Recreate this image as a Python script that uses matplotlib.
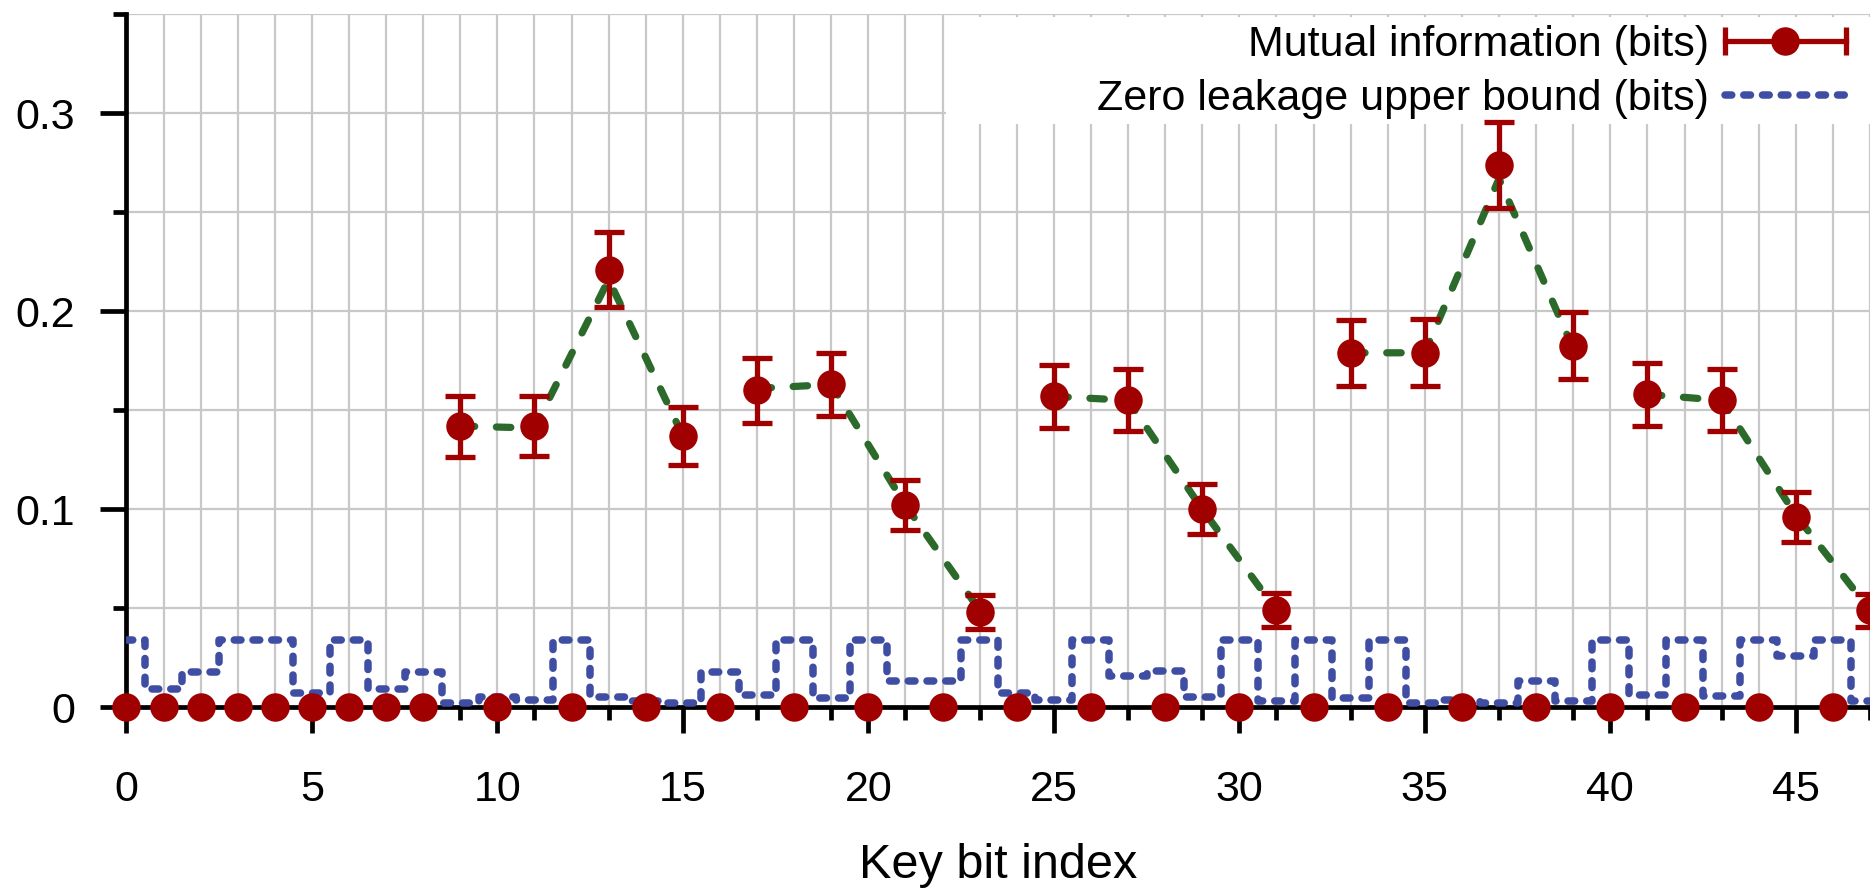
import numpy as np
import matplotlib
matplotlib.use("Agg")
import matplotlib.pyplot as plt
from matplotlib.lines import Line2D
from matplotlib.legend_handler import HandlerLine2D, HandlerTuple
from matplotlib.patches import Rectangle
from matplotlib.ticker import MultipleLocator, FuncFormatter

plt.rcParams["font.family"] = ["Liberation Sans", "DejaVu Sans"]

RED = "#a00000"
BLUE = "#3f4da3"
GREEN = "#2b6a2b"
GRID = "#c8c8c8"

# bits that leak: measured mutual information and its error (bits)
leak_bits = [9, 11, 13, 15, 17, 19, 21, 23, 25, 27, 29, 31, 33, 35, 37, 39, 41, 43, 45, 47]
mi_values = [0.142, 0.142, 0.221, 0.137, 0.160, 0.163, 0.102, 0.048, 0.157, 0.155,
             0.100, 0.049, 0.179, 0.179, 0.274, 0.1825, 0.158, 0.155, 0.096, 0.049]
mi_errors = [0.0154, 0.0151, 0.019, 0.0148, 0.0163, 0.016, 0.0127, 0.0087, 0.016, 0.0157,
             0.0127, 0.0087, 0.0166, 0.0169, 0.0217, 0.0169, 0.016, 0.0157, 0.0127, 0.0084]

# bits with no leakage (MI = 0)
zero_bits = [0, 1, 2, 3, 4, 5, 6, 7, 8, 10, 12, 14, 16, 18, 20, 22, 24, 26, 28,
             30, 32, 34, 36, 38, 40, 42, 44, 46]

# model curve through the leaking bits, in groups of four
model_values = [0.142, 0.141, 0.216, 0.137, 0.161, 0.163, 0.102, 0.049, 0.157, 0.155,
                0.100, 0.049, 0.179, 0.179, 0.267, 0.181, 0.158, 0.155, 0.097, 0.049]

# zero leakage upper bound for every bit 0..47
bound_bits = list(range(48))
bound_values = [0.034, 0.009, 0.018, 0.034, 0.034, 0.007, 0.034, 0.009, 0.018, 0.002,
                0.005, 0.0036, 0.034, 0.005, 0.003, 0.002, 0.018, 0.006, 0.034, 0.0045,
                0.034, 0.0134, 0.013, 0.034, 0.007, 0.0035, 0.034, 0.016, 0.0185, 0.005,
                0.034, 0.003, 0.034, 0.0045, 0.034, 0.002, 0.0036, 0.002, 0.013, 0.003,
                0.034, 0.006, 0.034, 0.0055, 0.034, 0.026, 0.034, 0.003]

FS = 31

fig = plt.figure(figsize=(18.7, 8.91), dpi=100)
ax = fig.add_axes([0.0676, 0.2063, 0.9324, 0.7777])
ax.set_xlim(0, 47)
ax.set_ylim(0, 0.35)

ax.xaxis.set_major_locator(MultipleLocator(5))
ax.xaxis.set_minor_locator(MultipleLocator(1))
ax.yaxis.set_major_locator(MultipleLocator(0.1))
ax.yaxis.set_minor_locator(MultipleLocator(0.05))
ax.yaxis.set_major_formatter(FuncFormatter(lambda v, _: f"{v:g}"))
ax.grid(which="both", color=GRID, lw=1.6)
ax.set_axisbelow(True)

for s in ("top", "right"):
    ax.spines[s].set_visible(False)
for s in ("left", "bottom"):
    ax.spines[s].set_linewidth(3.4)
ax.tick_params(which="major", direction="out", length=19, width=3.4, labelsize=FS)
ax.tick_params(which="minor", direction="out", length=9.5, width=3.4)
ax.tick_params(axis="x", which="major", pad=26)
ax.tick_params(axis="y", which="major", pad=18)
ax.set_xlabel("Key bit index", fontsize=35, labelpad=24)

# white box behind the key, hides the grid like gnuplot's opaque key
ax.add_patch(Rectangle((0.47, 0.842), 0.53, 0.154, transform=ax.transAxes,
                       fc="white", ec="none", zorder=2))

for g in range(0, len(leak_bits), 4):
    ax.plot(leak_bits[g:g + 4], model_values[g:g + 4], color=GREEN, lw=5.2,
            dashes=(2.0, 3.0), dash_capstyle="round", zorder=3, clip_on=False)

ax.errorbar(leak_bits, mi_values, yerr=mi_errors, fmt="o", color=RED, ms=19.5,
            elinewidth=3.8, capsize=10.8, capthick=3.8, zorder=5, clip_on=False)
ax.plot(zero_bits, [0] * len(zero_bits), "o", color=RED, ms=19.5, zorder=6, clip_on=False)

ax.step(bound_bits, bound_values, where="mid", color=BLUE, lw=5.4, dashes=(0.9, 1.6),
        dash_capstyle="round", zorder=4)

cap_line = Line2D([], [], color=RED, lw=3.8, marker="|", markersize=20, markeredgewidth=3.8)
dot = Line2D([], [], color=RED, ls="none", marker="o", markersize=19.5)
bound_line = Line2D([], [], color=BLUE, lw=5.4, dashes=(0.9, 1.6), dash_capstyle="round")
ax.legend([(cap_line, dot), bound_line],
          ["Mutual information (bits)", "Zero leakage upper bound (bits)"],
          loc="upper right", bbox_to_anchor=(0.986, 0.984), frameon=False,
          markerfirst=False, handlelength=2.8, handletextpad=0.38, labelspacing=0.31,
          borderpad=0, borderaxespad=0, fontsize=FS,
          handler_map={cap_line: HandlerLine2D(numpoints=2, marker_pad=0),
                       dot: HandlerLine2D(numpoints=1),
                       tuple: HandlerTuple(ndivide=1)})

fig.savefig("out.png", dpi=100)
